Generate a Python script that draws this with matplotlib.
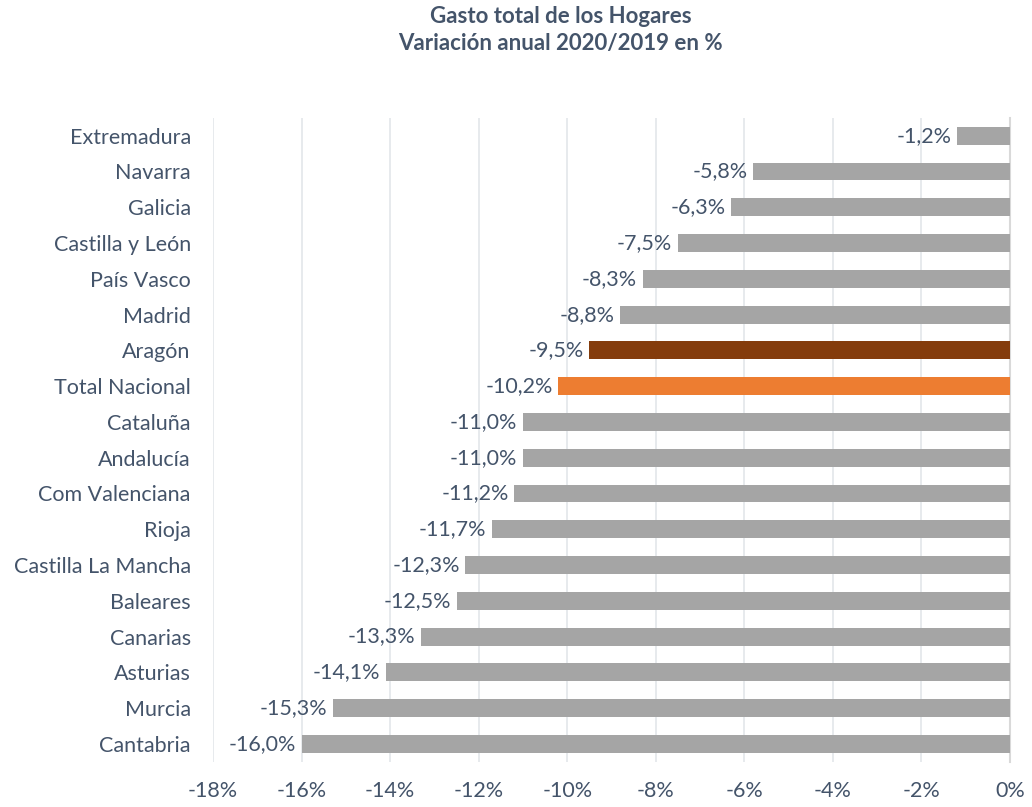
import matplotlib.pyplot as plt

regiones = ['Extremadura', 'Navarra', 'Galicia', 'Castilla y León', 'País Vasco',
            'Madrid', 'Aragón', 'Total Nacional', 'Cataluña', 'Andalucía',
            'Com Valenciana', 'Rioja', 'Castilla La Mancha', 'Baleares',
            'Canarias', 'Asturias', 'Murcia', 'Cantabria']
variacion = [-1.2, -5.8, -6.3, -7.5, -8.3, -8.8, -9.5, -10.2, -11.0, -11.0,
             -11.2, -11.7, -12.3, -12.5, -13.3, -14.1, -15.3, -16.0]
xticks = [-18, -16, -14, -12, -10, -8, -6, -4, -2, 0]

TEXT = '#44546A'
colores = []
for r in regiones:
    if r == 'Aragón':
        colores.append('#843C0C')
    elif r == 'Total Nacional':
        colores.append('#ED7D31')
    else:
        colores.append('#A5A5A5')

plt.rcParams['font.family'] = ['Lato', 'DejaVu Sans']

fig = plt.figure(figsize=(10.32, 8.07), dpi=100)
ax = fig.add_axes([0.2064, 0.056, 0.7723, 0.798])

pos = list(range(len(regiones)))
ax.barh(pos, variacion, height=0.5, color=colores, zorder=3)

for y, v in zip(pos, variacion):
    ax.annotate(f'{v:.1f}%'.replace('.', ','), (v, y), xytext=(-4, 0),
                textcoords='offset points', ha='right', va='center',
                fontsize=15.5, color=TEXT, zorder=4)

ax.set_xlim(-18, 0)
ax.set_ylim(len(regiones) - 0.5, -0.5)
ax.set_yticks(pos)
ax.set_yticklabels(regiones)
ax.set_xticks(xticks)
ax.set_xticklabels([f'{t}%' for t in xticks])
ax.tick_params(axis='both', length=0, labelsize=15.5, labelcolor=TEXT)
ax.tick_params(axis='x', pad=14)
ax.tick_params(axis='y', pad=16)
ax.grid(axis='x', color='#E3E6EA', linewidth=1.2, zorder=0)
for s in ['top', 'left', 'bottom']:
    ax.spines[s].set_visible(False)
ax.spines['right'].set_color('#D9D9D9')
ax.spines['right'].set_linewidth(1.5)

fig.text(0.543, 0.992, 'Gasto total de los Hogares\nVariación anual 2020/2019 en %',
         ha='center', va='top', fontsize=16, fontweight='bold', color=TEXT,
         linespacing=1.35)

fig.savefig('out.png', dpi=100)
